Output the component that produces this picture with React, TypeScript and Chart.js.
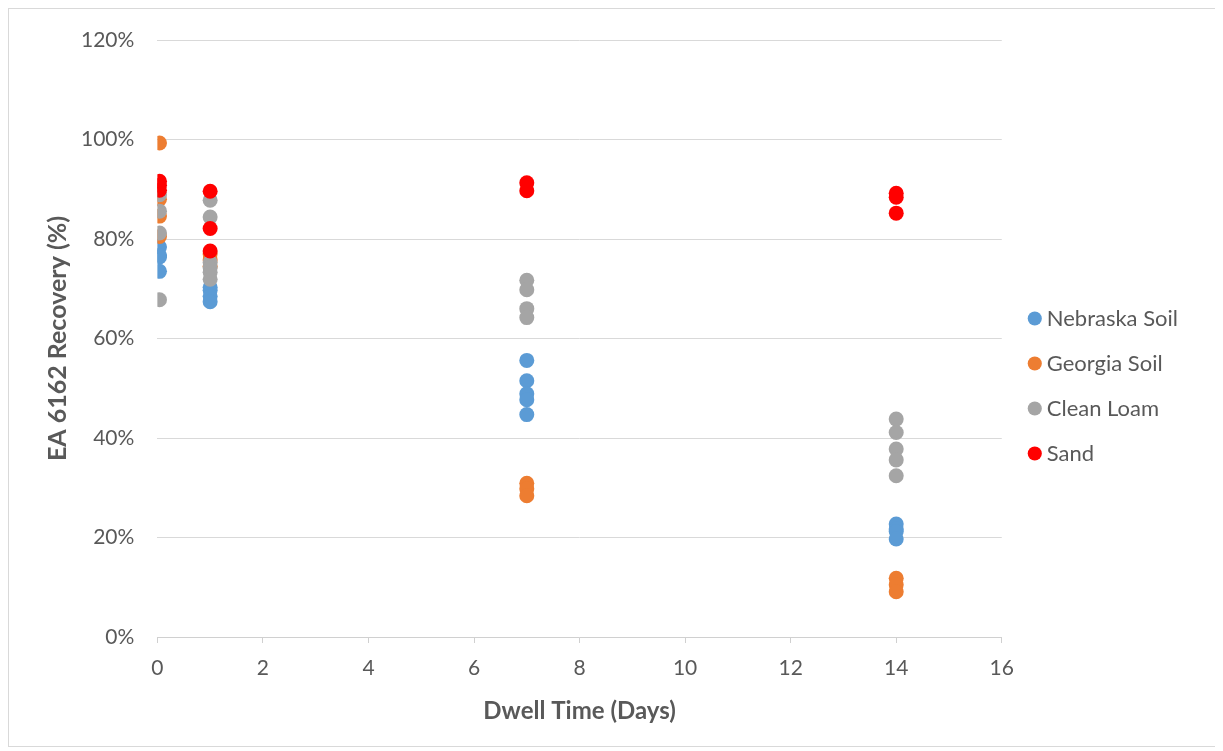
import React, { useEffect, useRef } from "react";
import { Chart, registerables } from "chart.js";

Chart.register(...registerables);

const seriesNames = ["Nebraska Soil", "Georgia Soil", "Clean Loam", "Sand"];
const seriesColors = ["#5B9BD5", "#ED7D31", "#A5A5A5", "#FF0000"];

const nebraskaX = [0.04, 0.04, 0.04, 0.04, 1, 1, 1, 1, 7, 7, 7, 7, 7, 14, 14, 14, 14];
const nebraskaY = [78.4, 76.7, 76.4, 73.5, 70.3, 69.7, 68.5, 67.4, 55.6, 51.5, 48.9, 47.7, 44.7, 22.7, 21.7, 21.2, 19.7];

const georgiaX = [0.04, 0.04, 0.04, 0.04, 1, 1, 1, 7, 7, 7, 14, 14, 14];
const georgiaY = [99.3, 88.0, 84.6, 80.5, 77.0, 75.8, 74.5, 30.9, 29.8, 28.4, 11.8, 10.5, 9.1];

const loamX = [0.04, 0.04, 0.04, 0.04, 1, 1, 1, 1, 1, 1, 7, 7, 7, 7, 14, 14, 14, 14, 14];
const loamY = [88.9, 85.6, 81.2, 67.8, 87.8, 84.4, 75.3, 74.2, 73.3, 71.9, 71.7, 69.8, 66.0, 64.2, 43.8, 41.1, 37.8, 35.6, 32.4];

const sandX = [0.04, 0.04, 0.04, 1, 1, 1, 7, 7, 14, 14, 14];
const sandY = [91.6, 90.8, 89.8, 89.6, 82.1, 77.6, 91.3, 89.7, 89.2, 88.4, 85.2];

const xs = [nebraskaX, georgiaX, loamX, sandX];
const ys = [nebraskaY, georgiaY, loamY, sandY];

const xTitle = "Dwell Time (Days)";
const yTitle = "EA 6162 Recovery (%)";

const legendShift = {
  id: "legendShift",
  afterLayout(chart: any) {
    const l = chart.legend;
    if (!l) return;
    l.left += 9;
    l.right += 9;
    l.top += 3;
    l.bottom += 3;
  },
};

export default function App() {
  const ref = useRef<HTMLCanvasElement>(null);
  useEffect(() => {
    if (!ref.current) return;
    const font = "Lato, 'Open Sans', sans-serif";
    const chart = new Chart(ref.current, {
      type: "scatter",
      data: {
        datasets: seriesNames.map((name, i) => ({
          label: name,
          data: xs[i].map((x, j) => ({ x, y: ys[i][j] })),
          backgroundColor: seriesColors[i],
          borderColor: seriesColors[i],
          pointRadius: 7.5,
          pointBorderWidth: 0,
          order: 4 - i,
        })),
      },
      options: {
        animation: false,
        responsive: false,
        layout: { padding: { left: 34, right: 39, top: 31, bottom: 20 } },
        plugins: {
          tooltip: { enabled: false },
          legend: {
            position: "right",
            labels: {
              usePointStyle: true,
              pointStyle: "circle",
              boxWidth: 2,
              boxHeight: 10,
              padding: 23,
              color: "#595959",
              font: { family: font, size: 22 },
              sort: (a: any, b: any) => a.datasetIndex - b.datasetIndex,
            },
          },
        },
        scales: {
          x: {
            type: "linear",
            min: 0,
            max: 16,
            ticks: { stepSize: 2, color: "#595959", font: { family: font, size: 21 }, padding: 13 },
            grid: { display: true, drawOnChartArea: false, drawTicks: true, tickLength: 6, color: "#D0D0D0" },
            border: { display: true, color: "#D0D0D0" },
            title: { display: true, text: xTitle, color: "#595959", font: { family: font, size: 24, weight: "bold" }, padding: { top: 3, bottom: 0 } },
          },
          y: {
            min: 0,
            max: 120,
            ticks: { stepSize: 20, color: "#595959", font: { family: font, size: 21 }, padding: 8, callback: (v: any) => v + "%" },
            grid: { color: "#D9D9D9", drawTicks: true, tickLength: 15, tickColor: "rgba(0,0,0,0)" },
            border: { display: false },
            title: { display: true, text: yTitle, color: "#595959", font: { family: font, size: 25, weight: "bold" }, padding: { top: 0, bottom: 0 } },
          },
        },
      },
      plugins: [legendShift],
    });
    return () => chart.destroy();
  }, []);
  return (
    <div style={{ width: 1211, height: 739, border: "1px solid #D9D9D9", boxSizing: "border-box" }}>
      <canvas ref={ref} width={1209} height={737} style={{ display: "block" }} />
    </div>
  );
}
